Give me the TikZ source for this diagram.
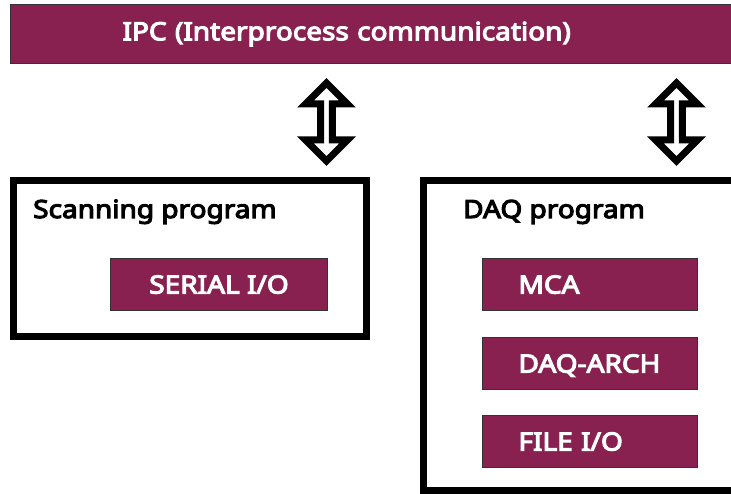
\documentclass[tikz,border=0pt]{standalone}
\usepackage{fontspec}
\setmainfont{Noto Sans}[BoldFont={Noto Sans}, BoldFeatures={FakeBold=4.5, FakeStretch=1.12}]
\usetikzlibrary{shapes.arrows}
\definecolor{plum}{RGB}{137,33,80}

\begin{document}
\begin{tikzpicture}[x=1pt, y=-1pt]
        \tikzstyle{bar}   = [draw=black!80, fill=plum, line width=1pt, text=white, font=\fontsize{25}{30}\selectfont\bfseries]
        \tikzstyle{mod}   = [draw=black!80, fill=plum, line width=1pt, minimum height=52pt, text height=18pt, text depth=0pt, text=white, font=\fontsize{25}{30}\selectfont\bfseries]
        \tikzstyle{prog}  = [draw, line width=7pt, inner sep=0pt, outer sep=0pt]
        \tikzstyle{title} = [anchor=base west, inner sep=0pt, font=\fontsize{25}{30}\selectfont\bfseries]
        \tikzstyle{link}  = [double arrow, draw, fill=white, line width=7pt, line join=miter, rotate=90, inner sep=0pt,
                             minimum height=78pt, minimum width=42pt, double arrow head extend=9pt]

        \useasboundingbox (0,0) rectangle (731,494);
        \clip (0,0) rectangle (731,494);

        % The IPC bar.
        \node[bar, anchor=north west, minimum height=59pt, text width=620pt, inner xsep=112pt, align=left] (ipc) at (10,4)
            {IPC (Interprocess communication)};

        % The two programs.
        \node[prog, anchor=north west, minimum width=353pt, minimum height=156pt] (scan) at (13.5,180.5) {};
        \node[prog, anchor=north west, minimum width=400pt, minimum height=310pt] (daq)  at (423.5,180.5) {};
        \node[title] (scantitle) at (33,218)  {Scanning program};
        \node[title] (daqtitle)  at (463,218) {DAQ program};

        % Their modules.
        \node[mod, anchor=north west, minimum width=217pt] (serial) at (110,258) {SERIAL I/O};
        \foreach \y/\name/\txt in {258/mca/MCA, 337/arch/DAQ-ARCH, 415/fileio/{FILE I/O}}
            \node[mod, anchor=north west, text width=143pt, inner xsep=36pt, align=left] (\name) at (482,\y) {\txt};

        % Links to the IPC.
        \node[link] (scanlink) at (326.5,122) {};
        \node[link] (daqlink)  at (676.5,122) {};
    \end{tikzpicture}
\end{document}
